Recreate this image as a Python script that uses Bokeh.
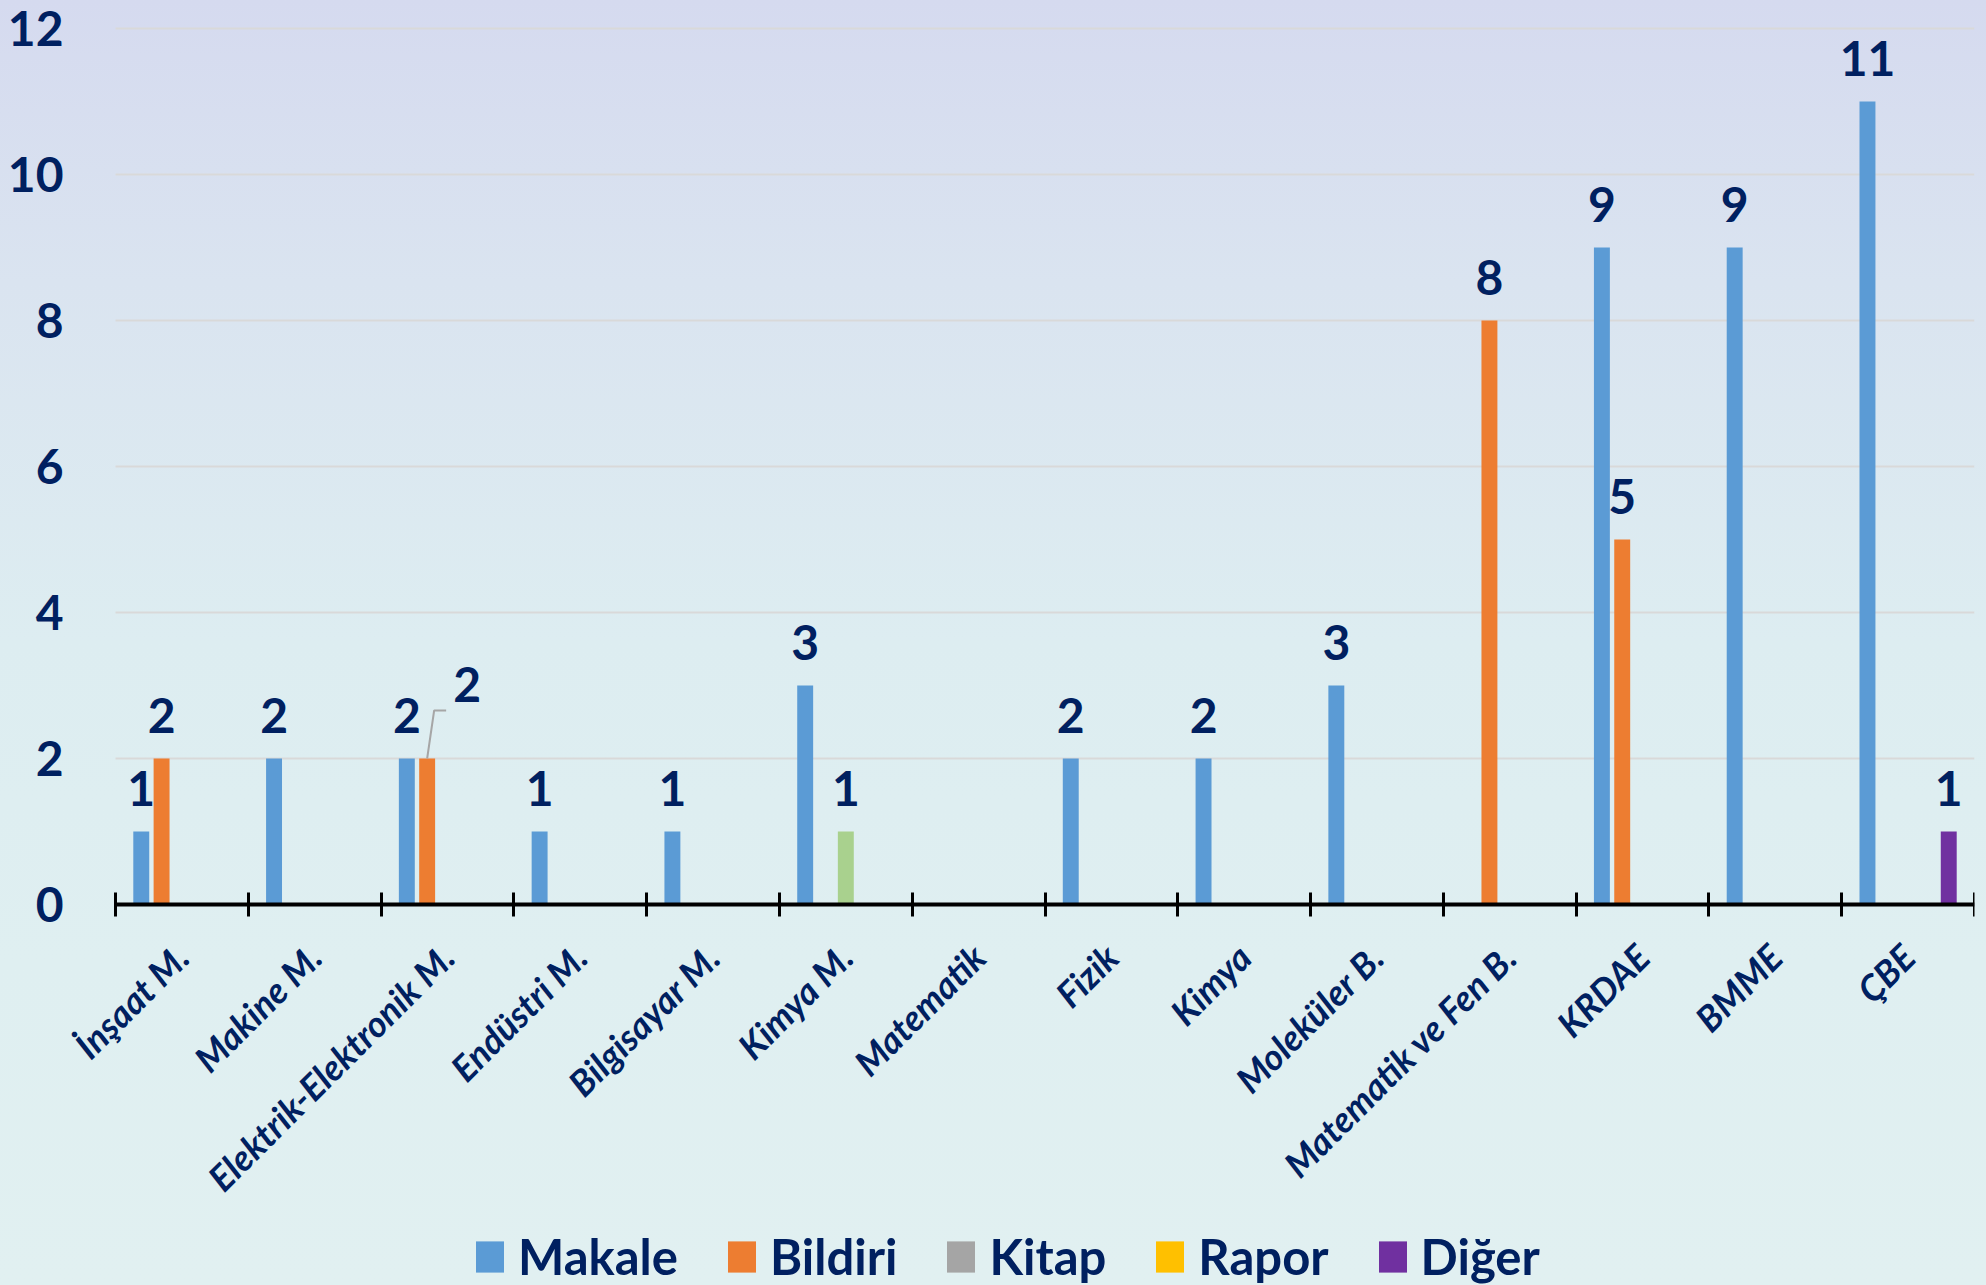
import math
from bokeh.plotting import figure
from bokeh.models import ColumnDataSource, Range1d, FixedTicker, Legend, LegendItem
from bokeh.transform import dodge
from bokeh.core.properties import value
from bokeh.embed import file_html
from bokeh.resources import INLINE

# ---------------- data ----------------
categories = ["İnşaat M.", "Makine M.", "Elektrik-Elektronik M.", "Endüstri M.",
              "Bilgisayar M.", "Kimya M.", "Matematik", "Fizik", "Kimya",
              "Moleküler B.", "Matematik ve Fen B.", "KRDAE", "BMME", "ÇBE"]
makale  = [1, 2, 2, 1, 1, 3, 0, 2, 2, 3, 0, 9, 9, 11]
bildiri = [2, 0, 2, 0, 0, 0, 0, 0, 0, 0, 8, 5, 0, 0]
kitap   = [0, 0, 0, 0, 0, 1, 0, 0, 0, 0, 0, 0, 0, 0]
rapor   = [0, 0, 0, 0, 0, 0, 0, 0, 0, 0, 0, 0, 0, 0]
diger   = [0, 0, 0, 0, 0, 0, 0, 0, 0, 0, 0, 0, 0, 1]
series_names = ["Makale", "Bildiri", "Kitap", "Rapor", "Diğer"]
y_ticks = [0, 2, 4, 6, 8, 10, 12]

# ---------------- styles / layout ----------------
COLORS = {"Makale": "#5B9BD5", "Bildiri": "#ED7D31", "Kitap": "#A5A5A5",
          "Rapor": "#FFC000", "Diğer": "#7030A0"}
POINT_COLORS = {("Kitap", "Kimya M."): "#A9D18E"}
OFFSETS = {"Makale": -0.306, "Bildiri": -0.153, "Kitap": 0.0, "Rapor": 0.153, "Diğer": 0.306}
BAR_W = 0.12
NAVY = "#002060"
FONT = "Lato"
LABEL_DY = -43
LABEL_NUDGE = {("Bildiri", "Elektrik-Elektronik M."): (40, -31)}
LEADER = {("Bildiri", "Elektrik-Elektronik M."): [(0, 0), (7, 48), (19, 48)]}

W, H = 1986, 1285
PLOT_LEFT, PLOT_RIGHT = 115, 1974   # pixel columns of the category axis ends
TOP_PX = 28                          # pixel row of the top value
AXIS_PX = 904                        # pixel row of the value-0 axis
NCAT = len(categories)
YMAX = y_ticks[-1]
px_x = (PLOT_RIGHT - PLOT_LEFT) / NCAT
px_y = (AXIS_PX - TOP_PX) / YMAX
# the frame covers the whole canvas so that no label is clipped
X_START = -PLOT_LEFT / px_x
Y_START = -(H - AXIS_PX) / px_y
Y_END = YMAX + TOP_PX / px_y

data = {"Makale": makale, "Bildiri": bildiri, "Kitap": kitap, "Rapor": rapor, "Diğer": diger}

src_dict = {"cat": categories, "xc": [i + 0.5 for i in range(NCAT)]}
for s in series_names:
    src_dict[s] = data[s]
    src_dict[s + "_color"] = [POINT_COLORS.get((s, c), COLORS[s]) for c in categories]
src = ColumnDataSource(src_dict)

p = figure(width=W, height=H, output_backend="svg", toolbar_location=None,
           x_range=Range1d(X_START, NCAT), y_range=Range1d(Y_START, Y_END),
           min_border_left=0, min_border_right=W - PLOT_RIGHT,
           min_border_top=0, min_border_bottom=0)
p.background_fill_alpha = 0
p.border_fill_alpha = 0
p.outline_line_color = None
p.styles = {"background": "linear-gradient(180deg, #D5DAEF 0%, #DAE4F0 22%, #DDEDF1 50%, #DFEFF1 75%, #E1F0F1 100%)"}

# horizontal gridlines over the category span only
grid_y = y_ticks[1:]
p.segment(x0=[0] * len(grid_y), x1=[NCAT] * len(grid_y), y0=grid_y, y1=grid_y,
          line_color="#D9D9D9", line_width=2)

renderers = {}
for s in series_names:
    r = p.vbar(x=dodge("xc", OFFSETS[s], range=p.x_range), top=s, bottom=0, width=BAR_W,
               source=src, fill_color=s + "_color", line_color=None)
    renderers[s] = r

# data labels
lx, ly, lt, lxo, lyo = [], [], [], [], []
for s in series_names:
    for i, c in enumerate(categories):
        v = data[s][i]
        if v:
            lx.append(i + 0.5 + OFFSETS[s])
            ly.append(v)
            lt.append(str(v))
            dx, dy = LABEL_NUDGE.get((s, c), (0, 0))
            lxo.append(dx)
            lyo.append(LABEL_DY + dy)
lab = ColumnDataSource(dict(x=lx, y=ly, text=lt, xo=lxo, yo=lyo))
p.text(x="x", y="y", text="text", x_offset="xo", y_offset="yo", source=lab,
       text_font=value(FONT), text_font_style="bold", text_font_size="48px",
       text_color=NAVY, text_align="center", text_baseline="alphabetic")

# leader lines
for (s, c), pts in LEADER.items():
    i = categories.index(c)
    x0 = i + 0.5 + OFFSETS[s]
    v = data[s][i]
    p.line([x0 + dx / px_x for dx, dy in pts], [v + dy / px_y for dx, dy in pts],
           line_color="#A6A6A6", line_width=2)

# axes
xa = p.xaxis[0]
xa.fixed_location = 0
xa.bounds = (0, NCAT)
xa.ticker = FixedTicker(ticks=[i + 0.5 for i in range(NCAT)],
                        minor_ticks=list(range(NCAT + 1)))
xa.major_label_overrides = {i + 0.5: c for i, c in enumerate(categories)}
xa.major_label_orientation = math.pi / 4
xa.major_tick_line_color = None
xa.major_tick_in = 0
xa.major_tick_out = 0
xa.minor_tick_in = 12
xa.minor_tick_out = 12
xa.minor_tick_line_color = "black"
xa.minor_tick_line_width = 3
xa.axis_line_color = "black"
xa.axis_line_width = 4
xa.major_label_standoff = 34
xa.major_label_text_font = FONT
xa.major_label_text_font_style = "bold italic"
xa.major_label_text_font_size = "36px"
xa.major_label_text_color = NAVY

ya = p.yaxis[0]
ya.fixed_location = 0
ya.bounds = (0, YMAX)
ya.ticker = FixedTicker(ticks=y_ticks)
ya.axis_line_color = None
ya.major_tick_line_color = None
ya.minor_tick_line_color = None
ya.major_tick_in = 0
ya.major_tick_out = 0
ya.major_label_standoff = 52
ya.major_label_text_font = FONT
ya.major_label_text_font_style = "bold"
ya.major_label_text_font_size = "48px"
ya.major_label_text_color = NAVY

p.xgrid.grid_line_color = None
p.ygrid.grid_line_color = None

# legend
items = [LegendItem(label=s, renderers=[renderers[s]], index=0) for s in series_names]
legend = Legend(items=items, orientation="horizontal", location=(472, 0),
                label_text_font=FONT, label_text_font_style="bold",
                label_text_font_size="49px", label_text_color=NAVY,
                glyph_width=35, glyph_height=39, label_standoff=11, spacing=46,
                padding=0, margin=0, border_line_color=None, background_fill_alpha=0)
p.add_layout(legend, "center")

open("out.html", "w").write(file_html(p, INLINE))
